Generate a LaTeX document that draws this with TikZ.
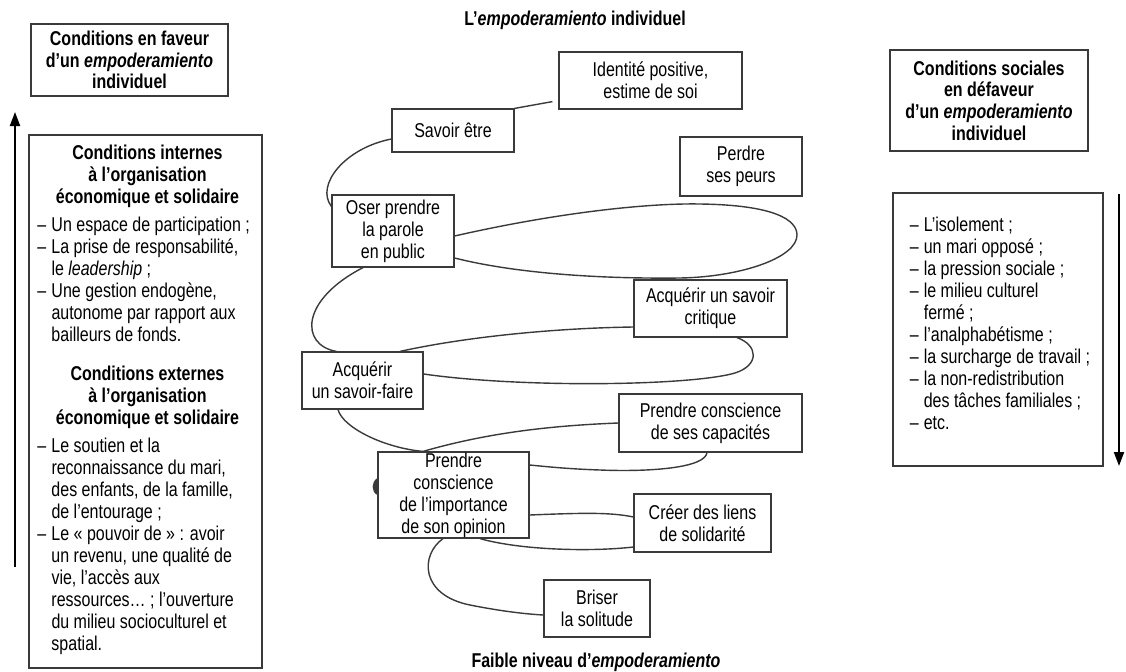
\documentclass[tikz,border=0pt]{standalone}
\usepackage{tikz}
\usepackage{xcolor}
\usepackage{fontspec}
\setmainfont{Liberation Sans}[FakeStretch=0.8]
\usetikzlibrary{arrows.meta}
\definecolor{trait}{HTML}{3A3A3A}
\newcommand{\titreliste}[1]{{\centering\bfseries #1\par}\vspace{3pt}}
\newcommand{\tiret}[1]{{\let\\\newline\hangindent=7pt\hangafter=1\noindent\makebox[7pt][l]{–}#1\par}}
\begin{document}
\begin{tikzpicture}[x=0.5pt,y=-0.5pt,
		cadre/.style={draw=trait,line width=0.6pt},
		etape/.style={cadre,align=center,inner sep=0pt,font=\fontsize{10}{11}\selectfont},
		entete/.style={cadre,align=center,inner sep=0pt,font=\bfseries\fontsize{10}{10.8}\selectfont},
		liste/.style={align=flush left,inner sep=0pt,font=\fontsize{10}{11}\selectfont},
		spirale/.style={draw=trait,line width=0.7pt},
		fleche/.style={draw=black,line width=1pt,-{Triangle[length=7pt,width=5pt]}}]
	\useasboundingbox (0,0) rectangle (1126,671);
	\node[font=\bfseries\fontsize{10}{11}\selectfont] (haut) at (575,20) {L’\textit{empoderamiento} individuel};
	\node[font=\bfseries\fontsize{10}{11}\selectfont] (bas) at (596,662) {Faible niveau d’\textit{empoderamiento}};
	\node[entete,minimum width=98.5pt,minimum height=36pt] (faveur) at (129.5,60)
		{Conditions en faveur\\d’un \textit{empoderamiento}\\individuel};
	\node[entete,minimum width=99pt,minimum height=50.5pt] (defaveur) at (989,100.5)
		{Conditions sociales\\en défaveur\\d’un \textit{empoderamiento}\\individuel};
	\node[cadre,minimum width=116.5pt,minimum height=266.5pt] (internes) at (145.5,401.5) {};
	\node[liste,text width=110pt,anchor=north] (internestxt) at ([shift={(1pt,-5pt)}]internes.north)
	{
		\titreliste{Conditions internes\\à l’organisation\\économique et solidaire}
		\tiret{Un espace de participation~;}
		\tiret{La prise de responsabilité,\\le \textit{leadership}~;}
		\tiret{Une gestion endogène,\\autonome par rapport aux\\bailleurs de fonds.}
		\vspace{8.5pt}
		\titreliste{Conditions externes\\à l’organisation\\économique et solidaire}
		\tiret{Le soutien et la\\reconnaissance du mari,\\des enfants, de la famille,\\de l’entourage~;}
		\tiret{Le «~pouvoir de~»~: avoir\\un revenu, une qualité de\\vie, l’accès aux\\ressources…~; l’ouverture\\du milieu socioculturel et\\spatial.}
	};
	\node[cadre,minimum width=105pt,minimum height=136.5pt] (freins) at (998,329.5) {};
	\node[liste,text width=100pt,anchor=north west] (freinstxt) at ([shift={(8.5pt,-12pt)}]freins.north west)
	{
		\tiret{L’isolement~;}
		\tiret{un mari opposé~;}
		\tiret{la pression sociale~;}
		\tiret{le milieu culturel\\fermé~;}
		\tiret{l’analphabétisme~;}
		\tiret{la surcharge de travail~;}
		\tiret{la non-redistribution\\des tâches familiales~;}
		\tiret{etc.}
	};
	\coordinate (gbas) at (15,567);
	\coordinate (ghaut) at (15,112);
	\draw[fleche] (gbas) -- (ghaut);
	\coordinate (dhaut) at (1119,194);
	\coordinate (dbas) at (1119,466);
	\draw[fleche] (dhaut) -- (dbas);
	\node[etape,minimum width=91.5pt,minimum height=28.5pt] (ident) at (650.5,80.5) {Identité positive,\\estime de soi};
	\node[etape,minimum width=61pt,minimum height=21.5pt] (savoir) at (453,130.5) {Savoir être};
	\node[etape,minimum width=61pt,minimum height=29.5pt] (peurs) at (741,166.5) {Perdre\\ses peurs};
	\node[etape,minimum width=61pt,minimum height=36pt] (oser) at (393,231) {Oser prendre\\la parole\\en public};
	\node[etape,minimum width=76.5pt,minimum height=28.5pt] (critique) at (710.5,308.5) {Acquérir un savoir\\critique};
	\node[etape,minimum width=60.5pt,minimum height=28.5pt] (faire) at (362.5,380.5) {Acquérir\\un savoir-faire};
	\node[etape,minimum width=91.5pt,minimum height=29pt] (capac) at (710.5,423) {Prendre conscience\\de ses capacités};
	\node[etape,minimum width=75.5pt,minimum height=43pt] (opinion) at (453.5,495) {Prendre\\conscience\\de l’importance\\de son opinion};
	\node[etape,minimum width=68.5pt,minimum height=29pt] (liens) at (702.5,523) {Créer des liens\\de solidarité};
	\node[etape,minimum width=53pt,minimum height=28.5pt] (solit) at (597,608.5) {Briser\\la solitude};
	\draw[spirale] ([shift={(-3pt,4pt)}]ident.south west) -- (savoir.north east);
	\draw[spirale] ([yshift=-4.25pt]savoir.west) .. controls (345,148) and (315,185) .. ([yshift=-6pt]oser.north west);
	\draw[spirale] ([yshift=-2.5pt]oser.east) .. controls (560,212) and (650,203) .. (700,204)
		.. controls (775,205) and (797,220) .. (797,235) .. controls (797,258) and (740,277) .. (680,278)
		.. controls (590,279) and (510,272) .. ([yshift=-13.5pt]oser.east);
	\draw[spirale] ([xshift=-15pt]oser.south) .. controls (300,300) and (300,345) .. ([xshift=17.5pt]faire.north west);
	\draw[spirale] ([xshift=18.75pt]faire.north) .. controls (470,336) and (560,328) .. ([yshift=-9.25pt]critique.west);
	\draw[spirale] ([xshift=13.25pt]critique.south) .. controls (758,345) and (760,365) .. (735,373)
		.. controls (690,386) and (520,388) .. ([yshift=3.25pt]faire.east);
	\draw[spirale] ([xshift=-12.25pt]faire.south) .. controls (343,428) and (385,448) .. ([xshift=-15.25pt]opinion.north)
		.. controls (480,435) and (540,426) .. (capac.west);
	\draw[spirale] ([xshift=-1.75pt]capac.south) .. controls (705,468) and (650,472) .. (600,470)
		.. controls (570,469) and (550,467) .. ([yshift=15pt]opinion.east);
	\fill[trait] ([yshift=8.5pt]opinion.west) .. controls (371,482) and (371,492) .. ([yshift=0pt]opinion.west) -- cycle;
	\draw[spirale] ([yshift=-10pt]opinion.east) .. controls (580,513) and (610,512) .. ([yshift=3pt]liens.west);
	\draw[spirale] ([yshift=-12pt]liens.west) .. controls (590,552) and (520,550) .. ([xshift=13.25pt]opinion.south);
	\draw[spirale] ([xshift=-5.25pt]opinion.south) .. controls (420,555) and (420,595) .. (470,605)
		.. controls (500,611) and (525,614) .. ([yshift=-3.25pt]solit.west);
\end{tikzpicture}
\end{document}
